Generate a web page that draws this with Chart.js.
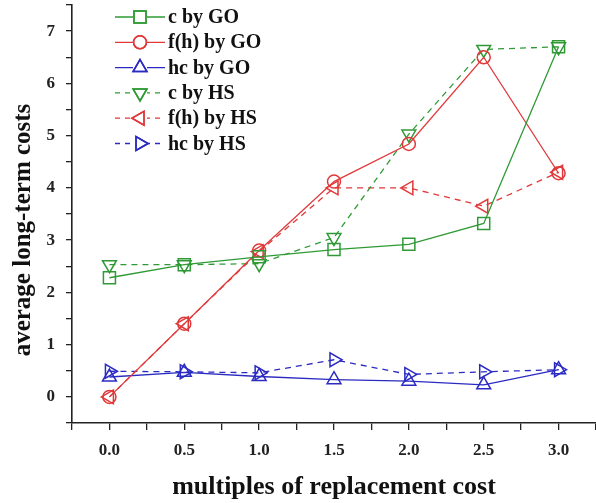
<!DOCTYPE html>
<html>
<head>
<meta charset="utf-8">
<script src="https://cdn.jsdelivr.net/npm/chart.js@4/dist/chart.umd.min.js"></script>
<style>
  html, body { margin: 0; padding: 0; background: #fff; }
  #wrap { width: 596px; height: 503px; }
</style>
</head>
<body>
<div id="wrap"><canvas id="chart" width="596" height="503"></canvas></div>
<script>
// data
const multiples = [0.0, 0.5, 1.0, 1.5, 2.0, 2.5, 3.0];
const cByGO  = [2.28, 2.53, 2.68, 2.82, 2.92, 3.32, 6.70];
const fhByGO = [0.00, 1.40, 2.80, 4.12, 4.84, 6.50, 4.28];
const hcByGO = [0.38, 0.47, 0.39, 0.33, 0.30, 0.23, 0.52];
const cByHS  = [2.53, 2.53, 2.55, 3.05, 5.03, 6.65, 6.70];
const fhByHS = [0.00, 1.40, 2.78, 4.00, 4.00, 3.65, 4.30];
const hcByHS = [0.49, 0.48, 0.46, 0.71, 0.43, 0.48, 0.52];

const yTitle = 'average long-term costs';
const xTitle = 'multiples of replacement cost';

const GREEN = '#2f9a35';
const RED = '#e0393a';
const BLUE = '#2b2bc2';
const serif = '"Liberation Serif", "Times New Roman", serif';

const toPts = ys => multiples.map((x, i) => ({ x: x, y: ys[i] }));

const makeSet = (label, ys, color, style, rot, r, dashed) => ({
  label: label,
  data: toPts(ys),
  borderColor: color,
  backgroundColor: 'rgba(0,0,0,0)',
  pointBorderColor: color,
  pointBackgroundColor: 'rgba(0,0,0,0)',
  borderWidth: 1.3,
  pointBorderWidth: 1.5,
  pointStyle: style,
  pointRotation: rot,
  pointRadius: r,
  borderDash: dashed ? [6, 5] : [],
  tension: 0,
  fill: false
});

const datasets = [
  makeSet('c by GO', cByGO, GREEN, 'rect', 0, 8.5, false),
  makeSet('f(h) by GO', fhByGO, RED, 'circle', 0, 6.5, false),
  makeSet('hc by GO', hcByGO, BLUE, 'triangle', 0, 8, false),
  makeSet('c by HS', cByHS, GREEN, 'triangle', 180, 8, true),
  makeSet('f(h) by HS', fhByHS, RED, 'triangle', 270, 8, true),
  makeSet('hc by HS', hcByHS, BLUE, 'triangle', 90, 8, true)
];

// legend inside the plot, line sample + marker like the original
const innerLegend = {
  id: 'innerLegend',
  afterDraw(chart) {
    const ctx = chart.ctx;
    const x0 = 115, x1 = 165, xm = 140, xt = 168;
    ctx.save();
    ctx.font = 'bold 20px ' + serif;
    ctx.textBaseline = 'middle';
    chart.data.datasets.forEach((ds, i) => {
      const y = 17 + i * 25.3;
      ctx.strokeStyle = ds.borderColor;
      ctx.lineWidth = 1.3;
      ctx.setLineDash(ds.borderDash.length ? [5, 5] : []);
      ctx.beginPath();
      ctx.moveTo(x0, y);
      ctx.lineTo(x1, y);
      ctx.stroke();
      ctx.setLineDash([]);
      ctx.fillStyle = '#fff';
      ctx.fillRect(xm - 7, y - 7, 14, 14);
      ctx.lineWidth = 1.5;
      Chart.helpers.drawPoint(ctx, {
        pointStyle: ds.pointStyle,
        rotation: ds.pointRotation,
        radius: ds.pointRadius,
        borderWidth: 1.5
      }, xm, y);
      ctx.stroke();
      ctx.fillStyle = '#111';
      ctx.fillText(ds.label, xt, y + 1);
    });
    ctx.restore();
  }
};

// y title sits a bit below the plot centre in the original
const yTitlePlugin = {
  id: 'yTitlePlugin',
  afterDraw(chart) {
    const ctx = chart.ctx;
    ctx.save();
    ctx.translate(24, 230);
    ctx.rotate(-Math.PI / 2);
    ctx.font = 'bold 25px ' + serif;
    ctx.fillStyle = '#111';
    ctx.textAlign = 'center';
    ctx.textBaseline = 'middle';
    ctx.fillText(yTitle, 0, 0);
    ctx.restore();
  }
};

new Chart(document.getElementById('chart'), {
  type: 'line',
  data: { datasets: datasets },
  plugins: [innerLegend, yTitlePlugin],
  options: {
    responsive: false,
    animation: false,
    layout: { autoPadding: false, padding: { top: 5, right: 0, left: 0, bottom: 0 } },
    plugins: { legend: { display: false }, tooltip: { enabled: false } },
    scales: {
      x: {
        type: 'linear',
        min: -0.25,
        max: 3.25,
        afterFit: s => { s.height = 80; s.paddingLeft = 0; s.paddingRight = 0; },
        border: { color: '#222', width: 1.6 },
        grid: { drawOnChartArea: false, color: '#222', tickLength: 7, lineWidth: 1.3 },
        ticks: {
          stepSize: 0.25,
          autoSkip: false,
          maxRotation: 0,
          padding: 10,
          color: '#222',
          font: { family: serif, size: 17, weight: 'bold' },
          callback: v => (Math.abs(v * 2 - Math.round(v * 2)) < 1e-6 && v >= 0 && v <= 3) ? v.toFixed(1) : ''
        },
        title: {
          display: true,
          text: xTitle,
          color: '#111',
          font: { family: serif, size: 26, weight: 'bold' },
          padding: { top: 0, bottom: 0 }
        }
      },
      y: {
        min: -0.5,
        max: 7.5,
        afterFit: s => { s.width = 72; s.paddingTop = 0; s.paddingBottom = 0; },
        border: { color: '#222', width: 1.6 },
        grid: { drawOnChartArea: false, color: '#222', tickLength: 6, lineWidth: 1.3 },
        ticks: {
          stepSize: 0.5,
          autoSkip: false,
          padding: 11,
          color: '#222',
          font: { family: serif, size: 17, weight: 'bold' },
          callback: v => Number.isInteger(v) && v >= 0 ? String(v) : ''
        }
      }
    }
  }
});
</script>
</body>
</html>
